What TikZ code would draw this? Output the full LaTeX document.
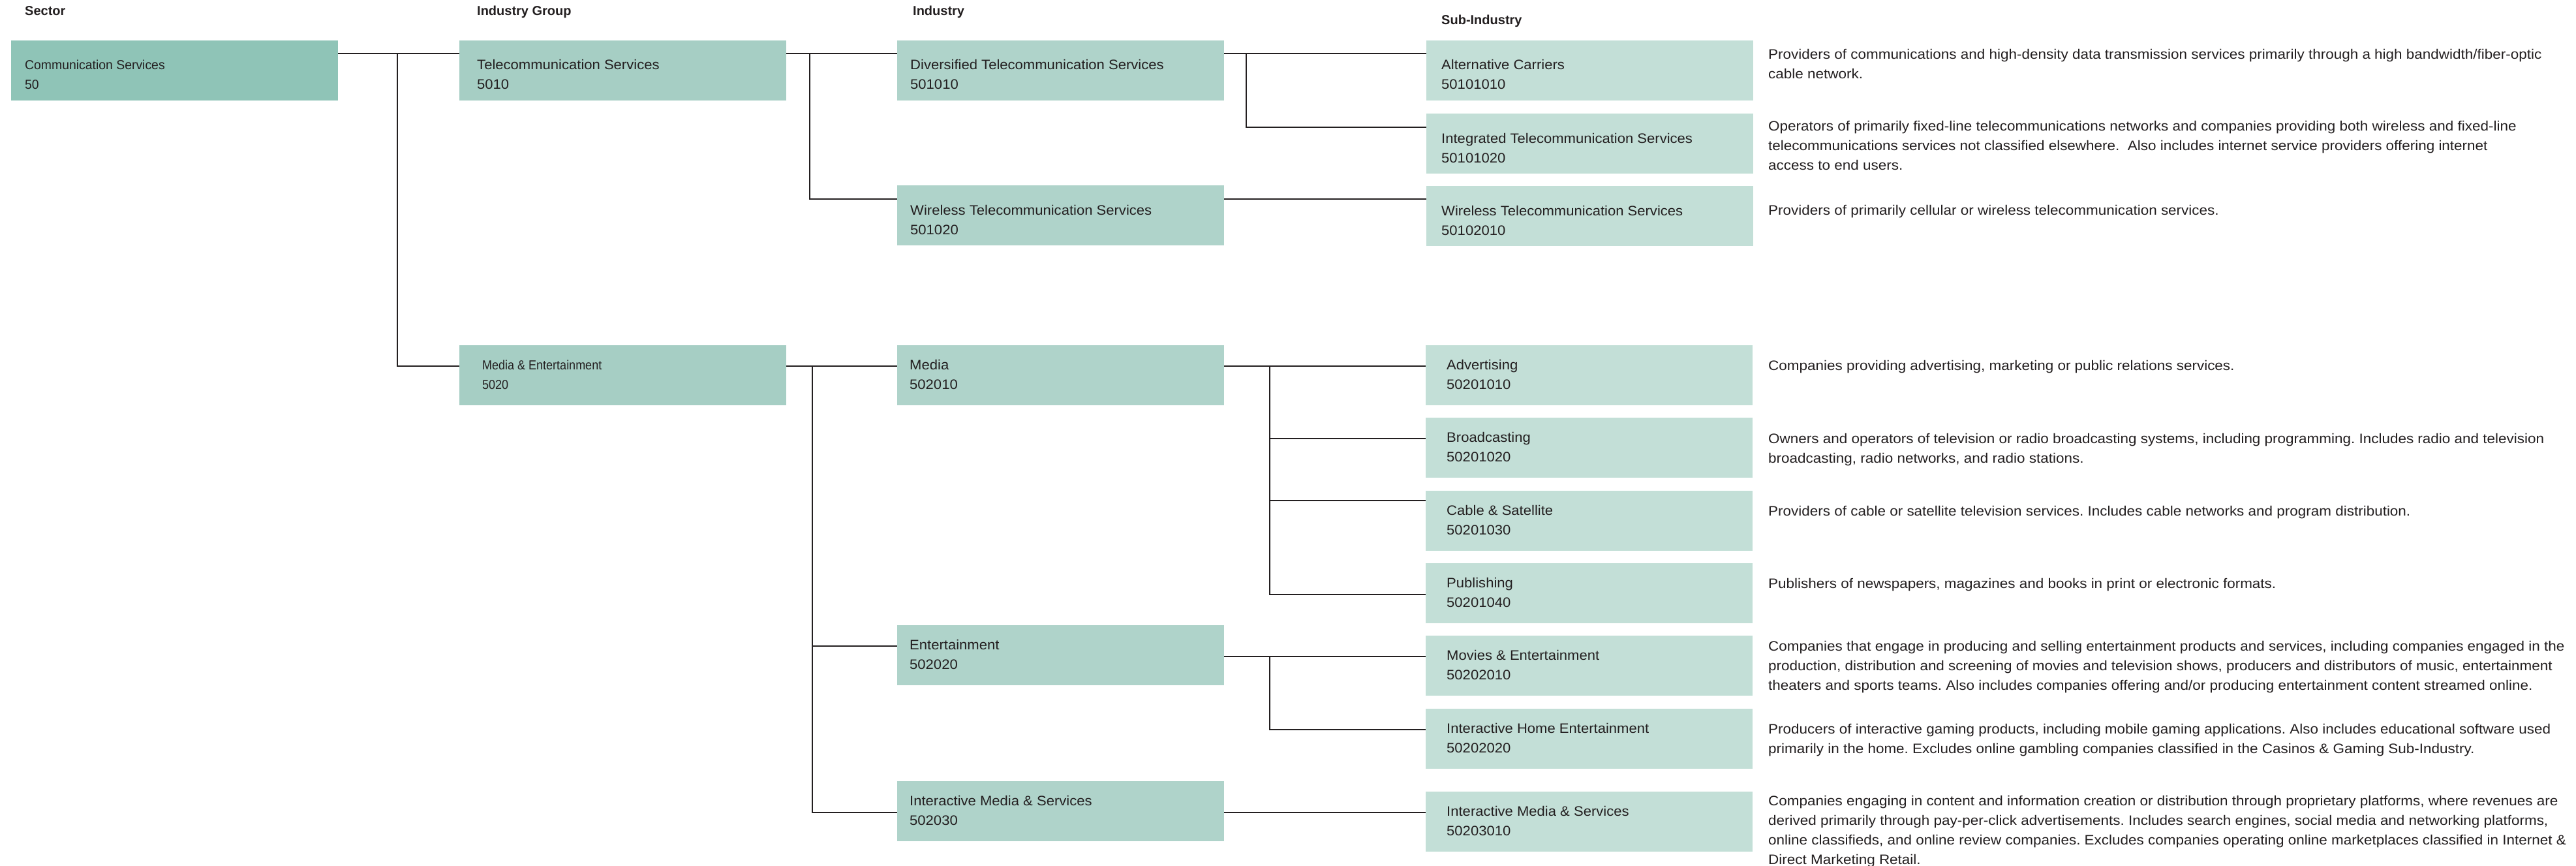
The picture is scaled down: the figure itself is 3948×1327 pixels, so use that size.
\documentclass[tikz,border=0pt]{standalone}
\usepackage{fontspec}
\setmainfont{Liberation Sans}
\newfontfamily\lblfont[FakeStretch=1.05]{Liberation Sans}
\newfontfamily\narrowfont[FakeStretch=0.97]{Liberation Sans}
\newfontfamily\narrowerfont[FakeStretch=0.90]{Liberation Sans}
\newfontfamily\descfont[FakeStretch=1.07]{Liberation Sans}
\usetikzlibrary{calc}
\definecolor{csec}{HTML}{8FC4B7}
\definecolor{cig}{HTML}{A6CEC4}
\definecolor{cind}{HTML}{AFD3CA}
\definecolor{csub}{HTML}{C3DFD7}
\definecolor{linec}{HTML}{231F20}
\definecolor{txt}{HTML}{231F20}
\newcommand\mkboxlabel[6][]{%
  \node[lbl,#1] (#2t) at ($(#2.north west)+(#3,#4)$) {#5};
  \node[lbl,#1] (#2c) at ($(#2t.base west)+(0,30)$) {#6};}
\frenchspacing
\begin{document}
\begin{tikzpicture}[x=1pt,y=-1pt,
  conn/.style={draw=linec, line width=2.5pt},
  gbox/.style={rectangle, draw=none, anchor=north west, minimum width=501pt, minimum height=92pt, inner sep=0pt, outer sep=0pt},
  lbl/.style={anchor=base west, inner sep=0pt, text=txt, font=\lblfont\fontsize{21}{30}\selectfont},
  narrow/.style={font=\narrowfont\fontsize{20}{30}\selectfont},
  narrower/.style={font=\narrowerfont\fontsize{20}{30}\selectfont},
  hdr/.style={anchor=base west, inner sep=0pt, text=txt, font=\bfseries\fontsize{20}{24}\selectfont},
  desc/.style={anchor=north west, inner sep=0pt, align=left, text=txt, font=\descfont\fontsize{21}{30}\selectfont}]
\useasboundingbox (0,0) rectangle (3948,1327);

% headers
\node[hdr] (h1) at (38,24) {Sector};
\node[hdr] (h2) at (731,24) {Industry Group};
\node[hdr] (h3) at (1399,24) {Industry};
\node[hdr] (h4) at (2209,38) {Sub-Industry};

% boxes
\node[gbox, fill=csec] (sec) at (17,62) {};
\node[gbox, fill=cig] (tig) at (704,62) {};
\node[gbox, fill=cig] (meig) at (704,529) {};
\node[gbox, fill=cind] (div) at (1375,62) {};
\node[gbox, fill=cind] (wind) at (1375,284) {};
\node[gbox, fill=cind] (media) at (1375,529) {};
\node[gbox, fill=cind] (ent) at (1375,958) {};
\node[gbox, fill=cind] (ims) at (1375,1197) {};
\node[gbox, fill=csub] (alt) at (2186,62) {};
\node[gbox, fill=csub] (integ) at (2186,174) {};
\node[gbox, fill=csub] (wsub) at (2186,285) {};
\node[gbox, fill=csub] (adv) at (2185,529) {};
\node[gbox, fill=csub] (brd) at (2185,640) {};
\node[gbox, fill=csub] (cab) at (2185,752) {};
\node[gbox, fill=csub] (pub) at (2185,863) {};
\node[gbox, fill=csub] (mov) at (2185,974) {};
\node[gbox, fill=csub] (ihe) at (2185,1086) {};
\node[gbox, fill=csub] (imss) at (2185,1213) {};

% box labels
\mkboxlabel[narrow]{sec}{21}{45}{Communication Services}{50}
\mkboxlabel{tig}{27}{45}{Telecommunication Services}{5010}
\mkboxlabel[narrower]{meig}{35}{37}{Media \& Entertainment}{5020}
\mkboxlabel{div}{20}{45}{Diversified Telecommunication Services}{501010}
\mkboxlabel{wind}{20}{45}{Wireless Telecommunication Services}{501020}
\mkboxlabel{media}{19}{37}{Media}{502010}
\mkboxlabel{ent}{19}{37}{Entertainment}{502020}
\mkboxlabel{ims}{19}{37}{Interactive Media \& Services}{502030}
\mkboxlabel{alt}{23}{45}{Alternative Carriers}{50101010}
\mkboxlabel{integ}{23}{45}{Integrated Telecommunication Services}{50101020}
\mkboxlabel{wsub}{23}{45}{Wireless Telecommunication Services}{50102010}
\mkboxlabel{adv}{32}{37}{Advertising}{50201010}
\mkboxlabel{brd}{32}{37}{Broadcasting}{50201020}
\mkboxlabel{cab}{32}{37}{Cable \& Satellite}{50201030}
\mkboxlabel{pub}{32}{37}{Publishing}{50201040}
\mkboxlabel{mov}{32}{37}{Movies \& Entertainment}{50202010}
\mkboxlabel{ihe}{32}{37}{Interactive Home Entertainment}{50202020}
\mkboxlabel{imss}{32}{37}{Interactive Media \& Services}{50203010}

% descriptions
\node[desc] (altd) at ($(alt.north east)+(23,13)$) {Providers of communications and high-density data transmission services primarily through a high bandwidth/fiber-optic\\cable network.};
\node[desc] (integd) at ($(integ.north east)+(23,11)$) {Operators of primarily fixed-line telecommunications networks and companies providing both wireless and fixed-line\\telecommunications services not classified elsewhere.\ \ Also includes internet service providers offering internet\\access to end users.};
\node[desc] (wsubd) at ($(wsub.north east)+(23,29)$) {Providers of primarily cellular or wireless telecommunication services.};
\node[desc] (advd) at ($(adv.north east)+(24,23)$) {Companies providing advertising, marketing or public relations services.};
\node[desc] (brdd) at ($(brd.north east)+(24,24)$) {Owners and operators of television or radio broadcasting systems, including programming. Includes radio and television\\broadcasting, radio networks, and radio stations.};
\node[desc] (cabd) at ($(cab.north east)+(24,23)$) {Providers of cable or satellite television services. Includes cable networks and program distribution.};
\node[desc] (pubd) at ($(pub.north east)+(24,23)$) {Publishers of newspapers, magazines and books in print or electronic formats.};
\node[desc] (movd) at ($(mov.north east)+(24,8)$) {Companies that engage in producing and selling entertainment products and services, including companies engaged in the\\production, distribution and screening of movies and television shows, producers and distributors of music, entertainment\\theaters and sports teams. Also includes companies offering and/or producing entertainment content streamed online.};
\node[desc] (ihed) at ($(ihe.north east)+(24,23)$) {Producers of interactive gaming products, including mobile gaming applications. Also includes educational software used\\primarily in the home. Excludes online gambling companies classified in the Casinos \& Gaming Sub-Industry.};
\node[desc] (imssd) at ($(imss.north east)+(24,6)$) {Companies engaging in content and information creation or distribution through proprietary platforms, where revenues are\\derived primarily through pay-per-click advertisements. Includes search engines, social media and networking platforms,\\online classifieds, and online review companies. Excludes companies operating online marketplaces classified in Internet \&\\Direct Marketing Retail.};

% connectors
\coordinate (j1) at (609,82);
\coordinate (j2) at (1241,82);
\coordinate (j3) at (1910,82);
\coordinate (j4) at (1245,561);
\coordinate (j5) at (1946,561);
\coordinate (j6) at (1946,1006);

\draw[conn] ($(sec.north east)+(0,20)$) -- ($(tig.north west)+(0,20)$);
\draw[conn] (j1) |- ($(meig.north west)+(0,32)$);

\draw[conn] ($(tig.north east)+(0,20)$) -- ($(div.north west)+(0,20)$);
\draw[conn] (j2) |- ($(wind.north west)+(0,21)$);
\draw[conn] ($(div.north east)+(0,20)$) -- ($(alt.north west)+(0,20)$);
\draw[conn] (j3) |- ($(integ.north west)+(0,21)$);
\draw[conn] ($(wind.north east)+(0,21)$) -- ($(wsub.north west)+(0,20)$);

\draw[conn] ($(meig.north east)+(0,32)$) -- ($(media.north west)+(0,32)$);
\draw[conn] (j4) |- ($(ent.north west)+(0,32)$);
\draw[conn] (j4) |- ($(ims.north west)+(0,48)$);
\draw[conn] ($(media.north east)+(0,32)$) -- ($(adv.north west)+(0,32)$);
\draw[conn] (j5) |- ($(brd.north west)+(0,32)$);
\draw[conn] (j5) |- ($(cab.north west)+(0,15)$);
\draw[conn] (j5) |- ($(pub.north west)+(0,48)$);
\draw[conn] ($(ent.north east)+(0,48)$) -- ($(mov.north west)+(0,32)$);
\draw[conn] (j6) |- ($(ihe.north west)+(0,32)$);
\draw[conn] ($(ims.north east)+(0,48)$) -- ($(imss.north west)+(0,32)$);
\end{tikzpicture}
\end{document}
